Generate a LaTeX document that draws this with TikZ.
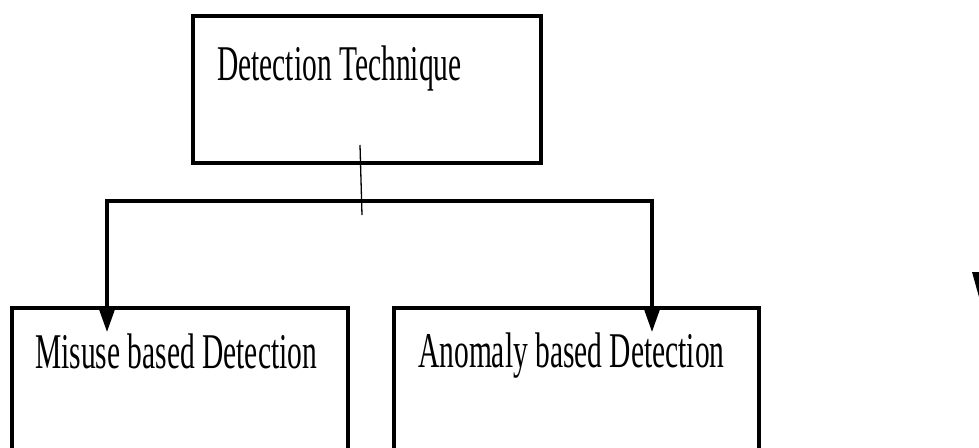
\documentclass[tikz,border=0pt]{standalone}
\usepackage{fontspec}
\setmainfont{Liberation Serif}[FakeStretch=0.59]
\usetikzlibrary{arrows.meta}
\tikzset{
  box/.style={draw=black, line width=3.4pt, rectangle, inner sep=0pt},
  lbl/.style={anchor=base west, inner sep=0pt, font=\fontsize{50}{54}\selectfont},
  conn/.style={draw=black, line width=3.2pt},
}
\begin{document}
\begin{tikzpicture}[x=1pt,y=-1pt]
\useasboundingbox (0,0) rectangle (979,447);
\clip (0,0) rectangle (979,447);
% boxes
\node[box, minimum width=348pt, minimum height=147pt] (top) at (367,89.5) {};
\node[box, minimum width=336pt, minimum height=170pt] (left) at (180,393) {};
\node[box, minimum width=365pt, minimum height=170pt] (right) at (576.5,393) {};
% labels
\node[lbl] (toplbl) at (217,80) {Detection Technique};
\node[lbl] (leftlbl) at (35,368) {Misuse based Detection};
\node[lbl] (rightlbl) at (418,367) {Anomaly based Detection};
% connectors
\coordinate (bar) at (360,201);
\coordinate (ltip) at (107,332);
\coordinate (rtip) at (652,332);
\coordinate (tickA) at (360,145);
\coordinate (tickB) at (362,215);
\draw[conn, {Triangle[length=24pt,width=16pt]}-{Triangle[length=24pt,width=16pt]}] (ltip) |- (bar) -| (rtip);
\draw[line width=1.3pt] (tickA) -- (tickB);
% cut-off glyph fragment at right edge
\fill[black] (972,272) -- (979,272) -- (979,297) -- cycle;
\end{tikzpicture}
\end{document}
